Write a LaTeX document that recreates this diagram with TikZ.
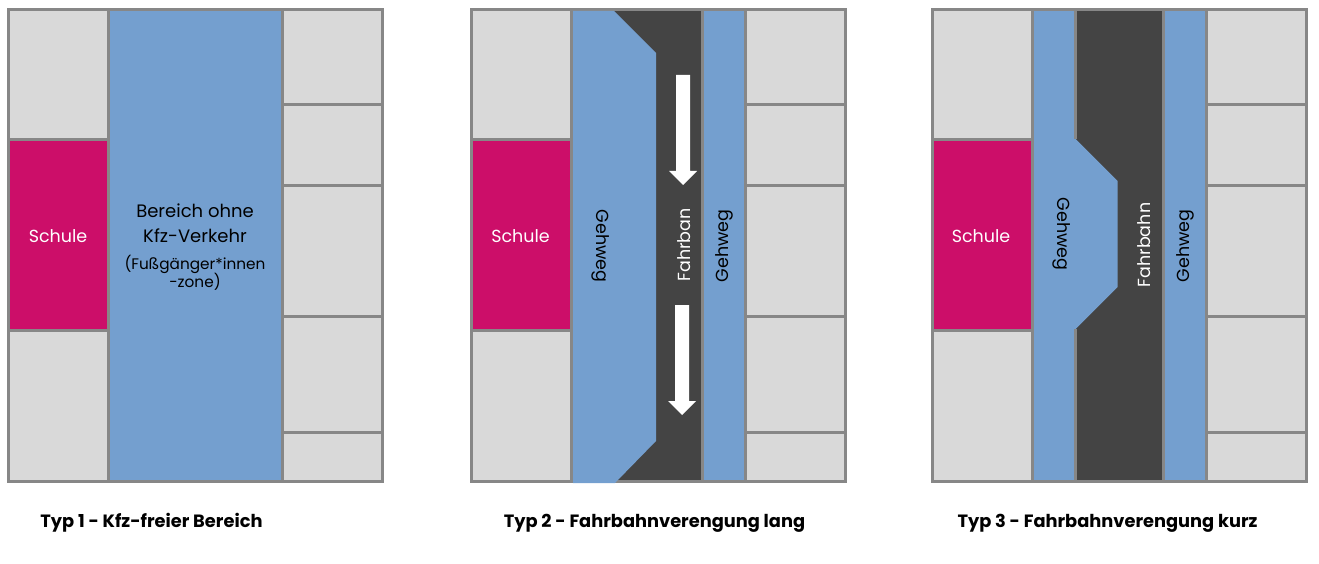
\documentclass[tikz,border=0pt]{standalone}
\usepackage{fontspec}
\setmainfont{Poppins}
\definecolor{bgray}{HTML}{D9D9D9}
\definecolor{lgray}{HTML}{878787}
\definecolor{sblue}{HTML}{749FCF}
\definecolor{mag}{HTML}{CC0E69}
\definecolor{road}{HTML}{444444}
\begin{document}
\begin{tikzpicture}[x=1pt,y=-1pt,
  box/.style={draw=lgray, line width=3pt, fill=bgray},
  school/.style={box, fill=mag},
  gline/.style={draw=lgray, line width=3pt},
  lbl/.style={font=\fontsize{17.5}{20}\selectfont, inner sep=0pt},
  big/.style={font=\fontsize{18}{21}\selectfont, inner sep=0pt},
  small/.style={font=\fontsize{15.3}{18}\selectfont, inner sep=0pt},
  captxt/.style={font=\fontsize{17.8}{20}\selectfont\bfseries, inner sep=0pt, anchor=base},
  arrowfill/.style={fill=white}]
\useasboundingbox (0,0) rectangle (1319,564);

% ---------- common side columns ----------
\foreach \dx in {0,463,923.5}{
\begin{scope}[shift={(\dx,0)}]
  \draw[box] (8.5,9.5) rectangle (108.5,139.5);
  \draw[school] (8.5,139.5) rectangle (108.5,330.5);
  \draw[box] (8.5,330.5) rectangle (108.5,481.5);
  \draw[box] (282.5,9.5) rectangle (382.5,104.5);
  \draw[box] (282.5,104.5) rectangle (382.5,186);
  \draw[box] (282.5,186) rectangle (382.5,316.5);
  \draw[box] (282.5,316.5) rectangle (382.5,432);
  \draw[box] (282.5,432) rectangle (382.5,481.5);
\end{scope}}

% ---------- Panel 1 ----------
\draw[box, fill=sblue] (108.5,9.5) rectangle (282.5,481.5);

% ---------- Panel 2 ----------
\begin{scope}[shift={(463,0)}]
  \fill[road] (108.5,9.5) rectangle (239.5,481.5);
  \fill[sblue] (239.5,9.5) rectangle (282.5,481.5);
  \draw[gline] (107,9.5) -- (284,9.5);
  \draw[gline] (107,481.5) -- (284,481.5);
  \draw[gline] (239.5,9.5) -- (239.5,481.5);
  \draw[gline] (282.5,9.5) -- (282.5,481.5);
  \draw[gline] (108.5,9.5) -- (108.5,481.5);
  \fill[sblue] (110,11) -- (151,11) -- (193,53) -- (193,441) -- (152,483) -- (110,483) -- cycle;
  \fill[arrowfill] (213,75) -- (227,75) -- (227,171) -- (234,171) -- (220,185) -- (206,171) -- (213,171) -- cycle;
  \fill[arrowfill] (212,305) -- (226,305) -- (226,401) -- (233,401) -- (219,415) -- (205,401) -- (212,401) -- cycle;
\end{scope}

% ---------- Panel 3 ----------
\begin{scope}[shift={(923.5,0)}]
  \fill[road] (108.5,9.5) rectangle (239.5,481.5);
  \fill[sblue] (239.5,9.5) rectangle (282.5,481.5);
  \fill[sblue] (110,11) -- (152,11) -- (152,139) -- (194,181) -- (194,287) -- (152,329) -- (152,480) -- (110,480) -- cycle;
  \draw[gline] (107,9.5) -- (284,9.5);
  \draw[gline] (107,481.5) -- (284,481.5);
  \draw[gline] (239.5,9.5) -- (239.5,481.5);
  \draw[gline] (282.5,9.5) -- (282.5,481.5);
  \draw[gline] (108.5,9.5) -- (108.5,481.5);
  \draw[gline] (152,9.5) -- (152,139);
  \draw[gline] (152,329) -- (152,481.5);
\end{scope}

% ---------- Texts ----------
\node[lbl, white, anchor=base] (s1) at (58,242) {Schule};
\node[lbl, white, anchor=base] (s2) at (520.5,242) {Schule};
\node[lbl, white, anchor=base] (s3) at (981,242) {Schule};

\node[big, anchor=base] (b1) at (195,217) {Bereich ohne};
\node[big, anchor=base] (b2) at (195,242) {Kfz-Verkehr};
\node[small, anchor=base] (b3) at (195,269) {(Fußgänger*innen};
\node[small, anchor=base] (b4) at (195,287) {-zone)};

\node[lbl, rotate=-90] (g21) at (601,246) {Gehweg};
\node[lbl, rotate=90, white] (f2) at (684,245) {Fahrban};
\node[lbl, rotate=90] (g22) at (724,246) {Gehweg};

\node[lbl, rotate=-90] (g31) at (1062,234) {Gehweg};
\node[lbl, rotate=90, white] (f3) at (1144,245) {Fahrbahn};
\node[lbl, rotate=90] (g32) at (1185,246) {Gehweg};

\node[captxt] (c1) at (151.5,527) {Typ 1 - Kfz-freier Bereich};
\node[captxt] (c2) at (654.5,527) {Typ 2 - Fahrbahnverengung lang};
\node[captxt] (c3) at (1107.5,527) {Typ 3 - Fahrbahnverengung kurz};
\end{tikzpicture}
\end{document}
